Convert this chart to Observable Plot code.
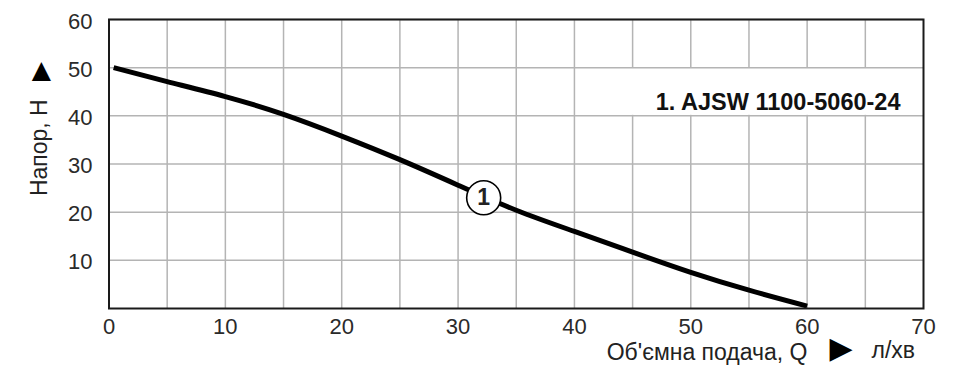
<!DOCTYPE html>
<html><head><meta charset="utf-8">
<script src="https://cdn.jsdelivr.net/npm/d3@7"></script>
<script src="https://cdn.jsdelivr.net/npm/@observablehq/plot@0.6"></script>
<style>
html,body{margin:0;padding:0;background:#fff;}
</style>
</head><body><div id="chart"></div>
<script>
// ---- data ----
const flow = [0.4, 5, 10, 15, 20, 25, 30, 35, 40, 45, 50, 55, 60];          // Q, л/хв
const head = [50, 47.1, 44.0, 40.3, 35.8, 30.9, 25.6, 20.4, 16.0, 11.7, 7.5, 3.8, 0.5]; // H, м
const xTicks = [0, 10, 20, 30, 40, 50, 60, 70];
const xGridLines = [5, 10, 15, 20, 25, 30, 35, 40, 45, 50, 55, 60, 65];
const yTicks = [10, 20, 30, 40, 50, 60];
const markerQ = [32.2];
const markerH = [23.0];
const markerLabels = ["1"];
const seriesName = "1. AJSW 1100-5060-24";
// grid cell that holds the legend (Q 45–70, H 40–50)
const legendCellQ = [45, 70];
const legendCellH = [40, 50];
const xTitle = "Об'ємна подача, Q";
const xUnit = "л/хв";
const yTitle = "Напор, Н";

const curve = flow.map((q, i) => ({q, h: head[i]}));
const markers = markerQ.map((q, i) => ({q, h: markerH[i], label: markerLabels[i]}));
const legendCell = [{q1: legendCellQ[0], q2: legendCellQ[1], h1: legendCellH[0], h2: legendCellH[1]}];
const font = "'Liberation Sans', Arial, Helvetica, sans-serif";

const chart = Plot.plot({
  width: 966,
  height: 375,
  marginLeft: 108.5,
  marginRight: 43,
  marginTop: 19,
  marginBottom: 67,
  style: {fontFamily: font, fontSize: "22px", color: "#2a2a2a", background: "#fff"},
  x: {domain: [0, 70]},
  y: {domain: [0, 60]},
  marks: [
    Plot.gridX(xGridLines, {stroke: "#b4b4b4", strokeOpacity: 1, strokeWidth: 1.5}),
    Plot.rect(legendCell, {x1: "q1", x2: "q2", y1: "h1", y2: "h2", fill: "#fff", insetLeft: -1.5, insetTop: 0.5, insetBottom: 0.5}),
    Plot.gridY(yTicks, {stroke: "#b4b4b4", strokeOpacity: 1, strokeWidth: 1.5}),
    Plot.axisX(xTicks, {tickSize: 0, tickPadding: 10, label: null, fontSize: 22, fill: "#2a2a2a"}),
    Plot.axisY(yTicks, {tickSize: 0, tickPadding: 16.5, label: null, fontSize: 22, dy: 2, fill: "#2a2a2a"}),
    Plot.line(curve, {x: "q", y: "h", curve: "natural", stroke: "#000", strokeWidth: 5, strokeLinecap: "butt"}),
    Plot.frame({stroke: "#1a1a1a", strokeWidth: 2}),
    Plot.dot(markers, {x: "q", y: "h", r: 17, fill: "#fff", stroke: "#000", strokeWidth: 1.6}),
    Plot.text(markers, {x: "q", y: "h", text: "label", fontWeight: "bold", fontSize: 23, fill: "#222"}),
    Plot.text([seriesName], {frameAnchor: "top-right", textAnchor: "end", dx: -23, dy: 73.6, fontWeight: "bold", fontSize: 23.5, fill: "#111"}),
    Plot.text([yTitle], {frameAnchor: "left", textAnchor: "middle", rotate: -90, dx: -69.2, dy: -16.3, fontSize: 23, fill: "#222"}),
    Plot.text(["▲"], {frameAnchor: "left", textAnchor: "middle", dx: -67.7, dy: -94, fontSize: 25, fill: "#000", fontFamily: "DejaVu Sans"}),
    Plot.text([xTitle], {frameAnchor: "bottom-right", textAnchor: "end", lineAnchor: "bottom", dx: -116, dy: 51.5, fontSize: 23, letterSpacing: "0.5px", fill: "#222"}),
    Plot.text(["▶"], {frameAnchor: "bottom-right", textAnchor: "middle", dx: 840.5 - 923, dy: 49.1, fontSize: 30, fill: "#000", fontFamily: "DejaVu Sans"}),
    Plot.text([xUnit], {frameAnchor: "bottom-right", textAnchor: "start", lineAnchor: "bottom", dx: 871 - 923, dy: 49, fontSize: 23, letterSpacing: "2px", fill: "#222"})
  ]
});
document.getElementById("chart").appendChild(chart);
</script>
</body></html>
